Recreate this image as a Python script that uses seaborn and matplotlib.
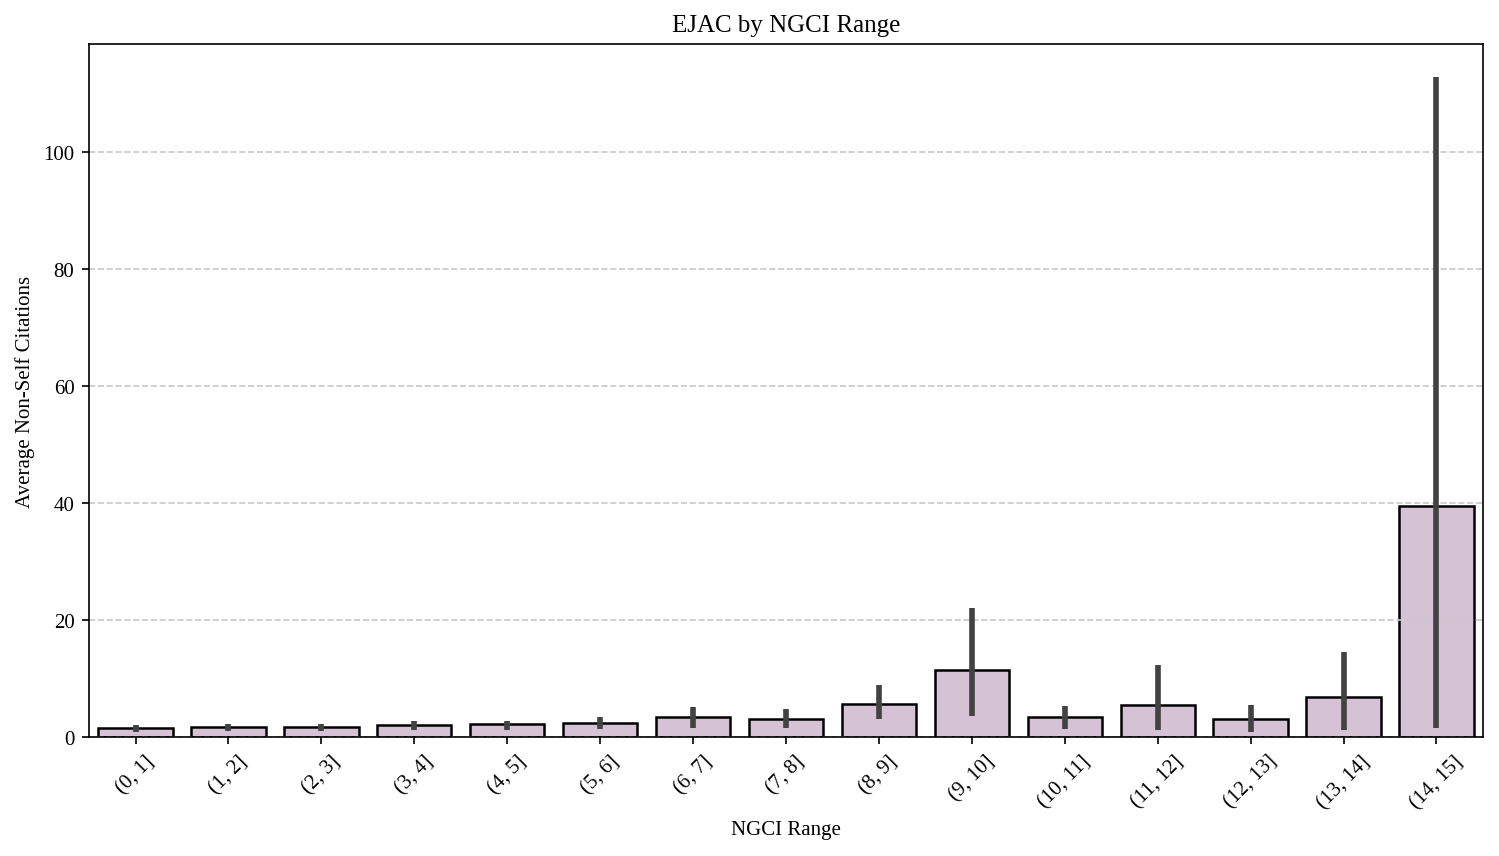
import numpy as np
import pandas as pd
import matplotlib
matplotlib.use("Agg")
import matplotlib.pyplot as plt
import seaborn as sns

# Valores
rangos = ["(0, 1]", "(1, 2]", "(2, 3]", "(3, 4]", "(4, 5]", "(5, 6]", "(6, 7]",
          "(7, 8]", "(8, 9]", "(9, 10]", "(10, 11]", "(11, 12]", "(12, 13]",
          "(13, 14]", "(14, 15]"]
media_citas = [1.58, 1.76, 1.76, 1.99, 2.16, 2.44, 3.35, 3.12, 5.67, 11.36,
               3.46, 5.5, 3.12, 6.76, 39.5]
ic_bajo = [0.9, 1.1, 1.1, 1.15, 1.25, 1.42, 1.58, 1.58, 3.12, 3.63,
           1.42, 1.25, 0.9, 1.25, 1.48]
ic_alto = [2.0, 2.2, 2.2, 2.67, 2.67, 3.4, 5.1, 4.77, 8.86, 22.1,
           5.28, 12.27, 5.45, 14.48, 112.8]

plt.rcParams['font.family'] = ['Liberation Serif', 'DejaVu Serif']

df = pd.DataFrame({'NGCI Range': rangos, 'Average Non-Self Citations': media_citas})

fig, ax = plt.subplots(figsize=(1499 / 150, 857 / 150), dpi=150)
fig.subplots_adjust(left=0.0594, right=0.9893, top=0.9475, bottom=0.1389)

sns.barplot(data=df, x='NGCI Range', y='Average Non-Self Citations', ax=ax,
            color='thistle', edgecolor='black', linewidth=1.2, errorbar=None)

# Barras de error (IC) sobre las posiciones categóricas
pos = ax.get_xticks()
ax.vlines(pos, ic_bajo, ic_alto, color='.26', linewidth=2.7, zorder=3)
ax.set_xlim(pos[0] - 0.5, pos[-1] + 0.5)

ax.set_title('EJAC by NGCI Range', fontsize=12)
ax.set_xlabel('NGCI Range')
ax.set_ylabel('Average Non-Self Citations')
ax.tick_params(axis='x', rotation=45)
ax.yaxis.grid(True, linestyle='--', color='#c8c8c8', linewidth=0.8)

plt.savefig('out.png', dpi=150)
plt.close()
